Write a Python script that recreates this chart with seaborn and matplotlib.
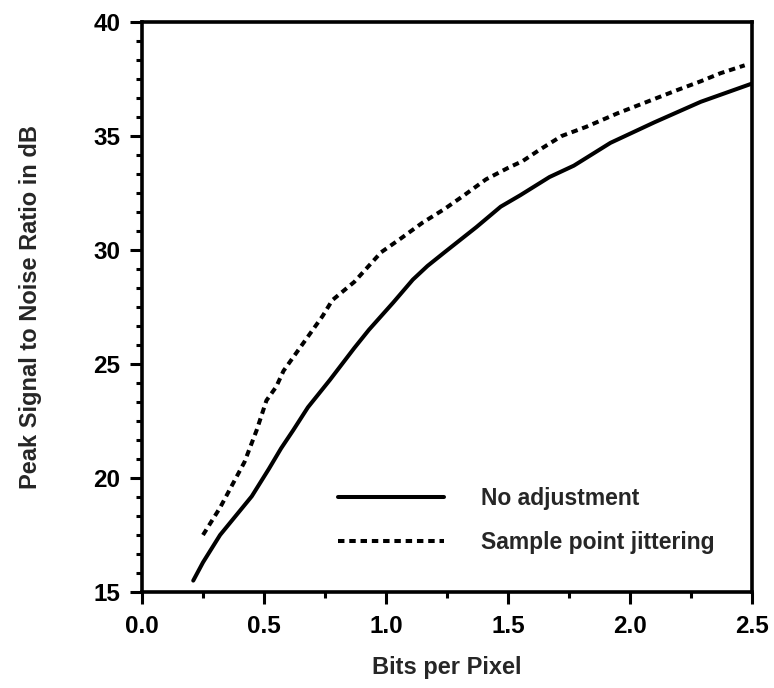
import matplotlib
matplotlib.use("Agg")
import matplotlib.pyplot as plt
import seaborn as sns
import pandas as pd
from matplotlib.ticker import AutoMinorLocator

# ---- data ----
bpp_none = [0.21, 0.25, 0.32, 0.45, 0.52, 0.57, 0.62, 0.68, 0.77, 0.87, 0.93, 1.03,
            1.11, 1.17, 1.24, 1.37, 1.47, 1.55, 1.67, 1.77, 1.92, 2.10, 2.29, 2.50]
psnr_none = [15.5, 16.3, 17.5, 19.2, 20.4, 21.3, 22.1, 23.1, 24.3, 25.7, 26.5, 27.7,
             28.7, 29.3, 29.9, 31.0, 31.9, 32.4, 33.2, 33.7, 34.7, 35.6, 36.5, 37.3]

bpp_jitter = [0.25, 0.32, 0.42, 0.47, 0.51, 0.55, 0.58, 0.62, 0.68, 0.74, 0.78, 0.87,
              0.98, 1.06, 1.15, 1.24, 1.32, 1.41, 1.50, 1.56, 1.63, 1.72, 1.82, 1.95,
              2.07, 2.19, 2.29, 2.37, 2.47]
psnr_jitter = [17.5, 18.7, 20.7, 22.1, 23.4, 24.0, 24.7, 25.3, 26.2, 27.1, 27.8, 28.6,
               29.9, 30.5, 31.2, 31.8, 32.4, 33.1, 33.6, 33.9, 34.4, 35.0, 35.4, 36.0,
               36.5, 37.0, 37.4, 37.75, 38.1]

series_names = ["No adjustment", "Sample point jittering"]
x_ticks = [0.0, 0.5, 1.0, 1.5, 2.0, 2.5]
y_ticks = [15, 20, 25, 30, 35, 40]
x_label = "Bits per Pixel"
y_label = "Peak Signal to Noise Ratio in dB"

df_none = pd.DataFrame({"bpp": bpp_none, "psnr": psnr_none})
df_jit = pd.DataFrame({"bpp": bpp_jitter, "psnr": psnr_jitter})

sns.set_style("ticks")
plt.rcParams["font.family"] = ["Liberation Sans", "DejaVu Sans"]

fig = plt.figure(figsize=(7.74, 6.88), dpi=100)
ax = fig.add_axes([142 / 774, 96 / 688, 610 / 774, 570 / 688])

sns.lineplot(data=df_none, x="bpp", y="psnr", ax=ax, color="black", lw=2.9,
             label=series_names[0], solid_capstyle="round")
sns.lineplot(data=df_jit, x="bpp", y="psnr", ax=ax, color="black", lw=2.9,
             linestyle=(0, (1.6, 1.2)), label=series_names[1])

ax.set_xlim(0, 2.5)
ax.set_ylim(15, 40)
ax.set_xticks(x_ticks)
ax.set_xticklabels([f"{v:.1f}" for v in x_ticks])
ax.set_yticks(y_ticks)
ax.xaxis.set_minor_locator(AutoMinorLocator(2))
ax.yaxis.set_minor_locator(AutoMinorLocator(6))

for s in ax.spines.values():
    s.set_visible(True)
    s.set_linewidth(2.6)
    s.set_color("black")

ax.tick_params(which="major", direction="out", length=8.5, width=2.2, labelsize=17.5,
               color="black", labelcolor="black", pad=7)
ax.tick_params(which="minor", direction="out", length=4.5, width=2.2, color="black")
ax.tick_params(axis="x", which="major", pad=8)
for lab in ax.get_xticklabels() + ax.get_yticklabels():
    lab.set_fontweight("bold")

ax.set_xlabel(x_label, fontsize=17, fontweight="bold", labelpad=13)
ax.set_ylabel(y_label, fontsize=17, fontweight="bold", labelpad=37)

ax.grid(False)
leg = ax.legend(loc="upper left", bbox_to_anchor=(0.321, 0.185), frameon=False,
                fontsize=16.5, handlelength=4.65, handletextpad=1.6, labelspacing=0.95,
                borderpad=0, borderaxespad=0)
for t in leg.get_texts():
    t.set_fontweight("bold")

fig.savefig("out.png", dpi=100, facecolor="white")
